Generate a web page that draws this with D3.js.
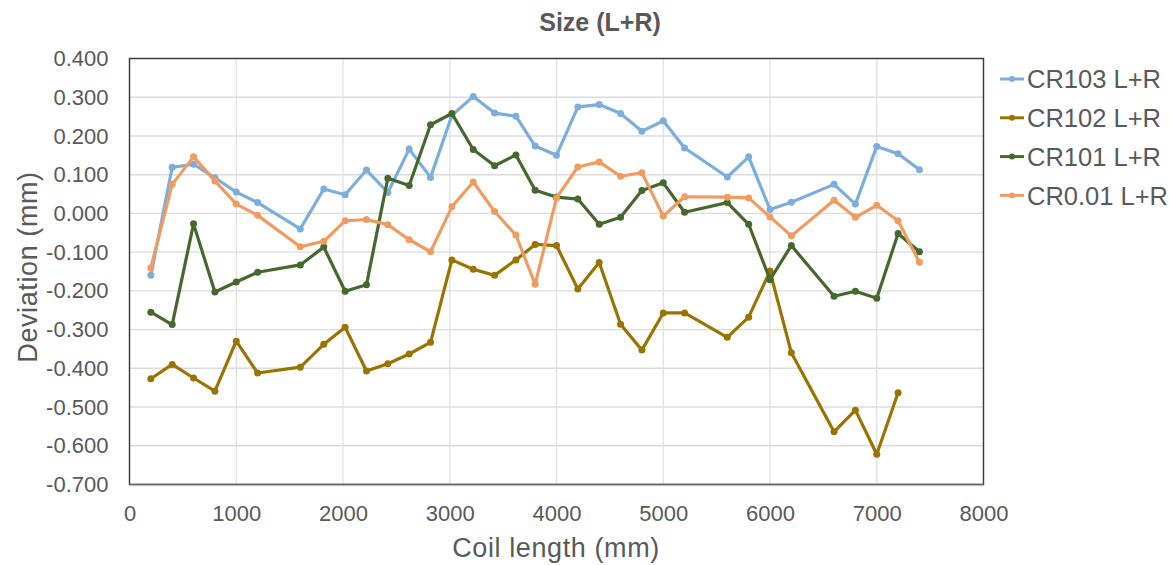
<!DOCTYPE html>
<html>
<head>
<meta charset="utf-8">
<script src="https://cdn.jsdelivr.net/npm/d3@7"></script>
<style>
  html, body { margin: 0; padding: 0; background: #fff; }
  svg { display: block; font-family: "Century Gothic", "Liberation Sans", Arial, sans-serif; }
</style>
</head>
<body>
<svg id="chart" width="1170" height="565"></svg>
<script>
// Coil positions (mm) where the deviation was sampled
const coilLength = [200, 400, 600, 800, 1000, 1200, 1600, 1820, 2020, 2220, 2420, 2620, 2820, 3020,
  3220, 3420, 3620, 3800, 4000, 4200, 4400, 4600, 4800, 5000, 5200, 5600, 5800, 6000, 6200,
  6600, 6800, 7000, 7200, 7400];

// Size deviation (L+R), mm
const cr103 = [-0.160, 0.119, 0.127, 0.092, 0.055, 0.028, -0.040, 0.063, 0.048, 0.112, 0.054,
  0.166, 0.093, 0.253, 0.302, 0.259, 0.251, 0.174, 0.150, 0.275, 0.281, 0.258, 0.212, 0.239,
  0.169, 0.094, 0.146, 0.010, 0.029, 0.075, 0.024, 0.173, 0.154, 0.113];
const cr102 = [-0.427, -0.390, -0.425, -0.459, -0.330, -0.412, -0.397, -0.338, -0.294, -0.407,
  -0.388, -0.363, -0.333, -0.120, -0.144, -0.160, -0.120, -0.080, -0.083, -0.195, -0.127,
  -0.286, -0.353, -0.257, -0.257, -0.320, -0.268, -0.149, -0.360, -0.564, -0.508, -0.622,
  -0.463, null];
const cr101 = [-0.255, -0.287, -0.027, -0.203, -0.177, -0.152, -0.133, -0.087, -0.201, -0.184,
  0.091, 0.072, 0.229, 0.258, 0.165, 0.123, 0.151, 0.060, 0.042, 0.037, -0.028, -0.010,
  0.059, 0.079, 0.003, 0.028, -0.028, -0.171, -0.083, -0.214, -0.201, -0.219, -0.052, -0.099];
const cr001 = [-0.140, 0.075, 0.146, 0.084, 0.024, -0.005, -0.086, -0.072, -0.019, -0.016,
  -0.029, -0.068, -0.099, 0.017, 0.081, 0.005, -0.056, -0.183, 0.040, 0.120, 0.133, 0.096,
  0.105, -0.007, 0.043, 0.042, 0.040, -0.009, -0.058, 0.034, -0.010, 0.021, -0.019, -0.126];

const seriesNames = ["CR103 L+R", "CR102 L+R", "CR101 L+R", "CR0.01 L+R"];
const seriesValues = [cr103, cr102, cr101, cr001];
const seriesColors = ["#7BAEDD", "#9A7300", "#45692C", "#F29B60"];

const xTicks = [0, 1000, 2000, 3000, 4000, 5000, 6000, 7000, 8000];
const yTicks = [0.4, 0.3, 0.2, 0.1, 0, -0.1, -0.2, -0.3, -0.4, -0.5, -0.6, -0.7];

const titleText = "Size (L+R)";
const xTitle = "Coil length (mm)";
const yTitle = "Deviation (mm)";

const svg = d3.select("#chart");
const plot = { left: 129.5, right: 983.5, top: 58.5, bottom: 484.5 };
const textColor = "#595959";

const x = d3.scaleLinear().domain([0, 8000]).range([plot.left, plot.right]);
const y = d3.scaleLinear().domain([-0.7, 0.4]).range([plot.bottom, plot.top]);

// Gridlines
const grid = svg.append("g");
grid.selectAll("line.h").data(yTicks).join("line")
  .attr("x1", plot.left).attr("x2", plot.right)
  .attr("y1", d => y(d)).attr("y2", d => y(d))
  .attr("stroke", "#DCDCDC").attr("stroke-width", 1.4);
grid.selectAll("line.v").data(xTicks).join("line")
  .attr("x1", d => x(d)).attr("x2", d => x(d))
  .attr("y1", plot.top).attr("y2", plot.bottom)
  .attr("stroke", "#E3E3E3").attr("stroke-width", 1.4);

// Plot frame
svg.append("rect")
  .attr("x", plot.left).attr("y", plot.top)
  .attr("width", plot.right - plot.left).attr("height", plot.bottom - plot.top)
  .attr("fill", "none").attr("stroke", "#3a3a3a").attr("stroke-width", 1.4);
svg.append("line")
  .attr("x1", plot.left).attr("x2", plot.right)
  .attr("y1", plot.bottom).attr("y2", plot.bottom)
  .attr("stroke", "#6b6b6b").attr("stroke-width", 1.6);

// Axes (labels only; lines come from the frame)
const yAxis = svg.append("g")
  .attr("transform", `translate(${plot.left},0)`)
  .call(d3.axisLeft(y).tickValues(yTicks).tickFormat(d3.format(".3f")).tickSize(0).tickPadding(21));
yAxis.select(".domain").remove();
yAxis.selectAll("text")
  .attr("fill", textColor).style("font-size", "22px")
  .style("font-family", "'Century Gothic', 'Liberation Sans', Arial, sans-serif")
  .text(d => d3.format(".3f")(d).replace("−", "-"));

const xAxis = svg.append("g")
  .attr("transform", `translate(0,${plot.bottom})`)
  .call(d3.axisBottom(x).tickValues(xTicks).tickFormat(d3.format("d")).tickSize(0).tickPadding(21));
xAxis.select(".domain").remove();
xAxis.selectAll("text")
  .attr("fill", textColor).style("font-size", "22px")
  .style("font-family", "'Century Gothic', 'Liberation Sans', Arial, sans-serif");

// Series lines and markers
const line = d3.line()
  .defined(d => d.v !== null)
  .x(d => x(d.x)).y(d => y(d.v));

seriesValues.forEach((vals, i) => {
  const pts = coilLength.map((c, j) => ({ x: c, v: vals[j] }));
  const g = svg.append("g");
  g.append("path").datum(pts)
    .attr("d", line)
    .attr("fill", "none")
    .attr("stroke", seriesColors[i])
    .attr("stroke-width", 3.2)
    .attr("stroke-linejoin", "round");
  g.selectAll("circle").data(pts.filter(d => d.v !== null)).join("circle")
    .attr("cx", d => x(d.x)).attr("cy", d => y(d.v))
    .attr("r", 3.5)
    .attr("fill", seriesColors[i]);
});

// Title
svg.append("text")
  .attr("x", 600).attr("y", 31)
  .attr("text-anchor", "middle")
  .attr("fill", textColor)
  .style("font-size", "25px").style("font-weight", "bold")
  .text(titleText);

// Axis titles
svg.append("text")
  .attr("x", 556).attr("y", 557)
  .attr("text-anchor", "middle")
  .attr("fill", textColor)
  .style("font-size", "27px").style("letter-spacing", "0.6px")
  .text(xTitle);

svg.append("text")
  .attr("transform", "translate(37,267) rotate(-90)")
  .attr("text-anchor", "middle")
  .attr("fill", textColor)
  .style("font-size", "27px").style("letter-spacing", "0.6px")
  .text(yTitle);

// Legend
const legend = svg.append("g");
seriesNames.forEach((name, i) => {
  const ly = 79 + i * 38.8;
  legend.append("line")
    .attr("x1", 1000).attr("x2", 1024)
    .attr("y1", ly).attr("y2", ly)
    .attr("stroke", seriesColors[i]).attr("stroke-width", 3);
  legend.append("circle")
    .attr("cx", 1012).attr("cy", ly).attr("r", 3)
    .attr("fill", seriesColors[i]);
  legend.append("text")
    .attr("x", 1027).attr("y", ly)
    .attr("dy", "0.36em")
    .attr("fill", textColor)
    .style("font-size", "25.5px")
    .text(name);
});
</script>
</body>
</html>
